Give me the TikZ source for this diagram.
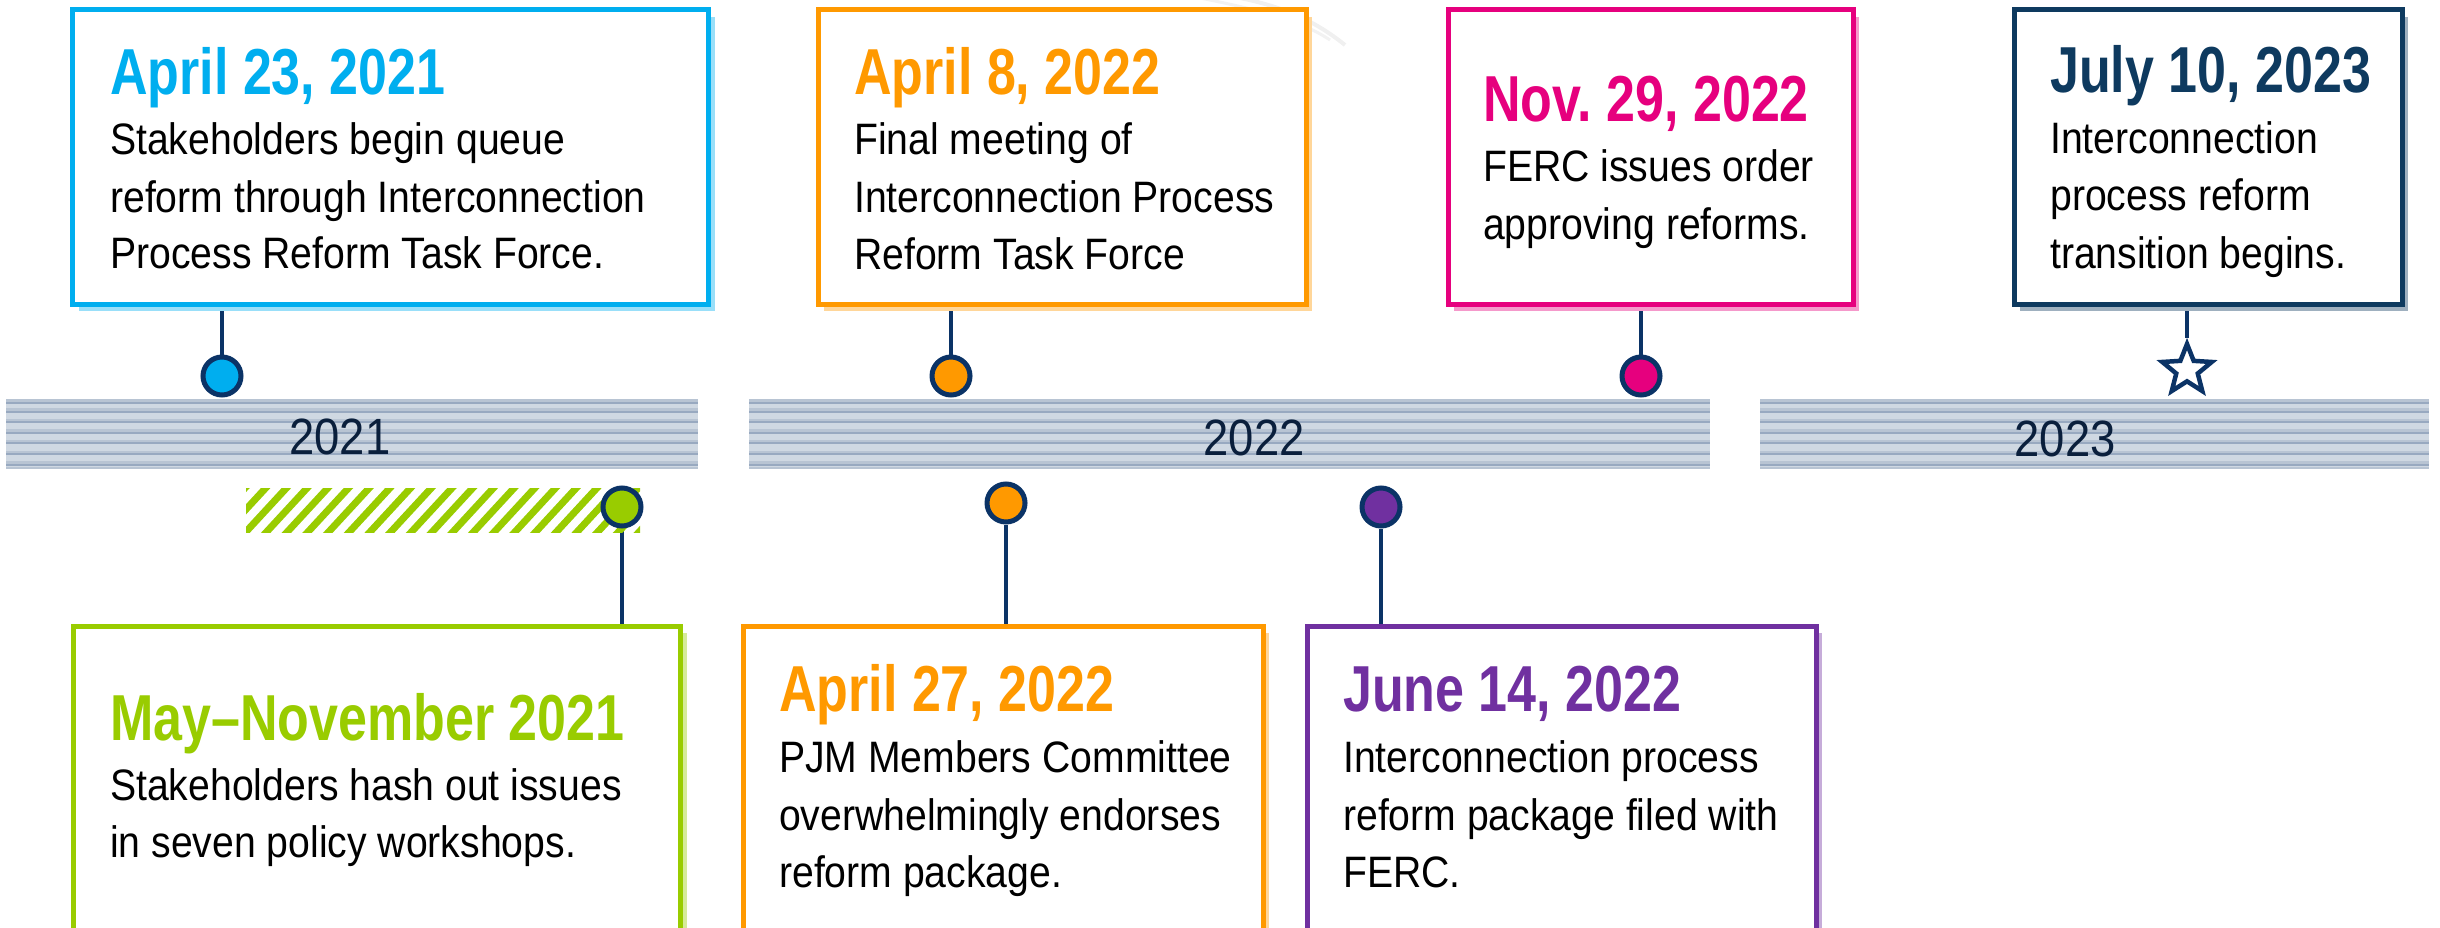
\documentclass[tikz,border=0pt]{standalone}
\usepackage{fontspec}
\setmainfont{Liberation Sans}[FakeStretch=0.89]
\newfontfamily\titlefont{Liberation Sans}[FakeStretch=0.80]
\usetikzlibrary{shadows,shapes.geometric}
\frenchspacing
\definecolor{cyanc}{HTML}{00AEEF}
\definecolor{orangec}{HTML}{FF9900}
\definecolor{pinkc}{HTML}{E6007E}
\definecolor{navyc}{HTML}{0E3A5F}
\definecolor{greenc}{HTML}{99CC00}
\definecolor{purplec}{HTML}{7030A0}
\definecolor{linec}{HTML}{0B3366}
\definecolor{barc}{HTML}{CFD8E2}
\definecolor{stripec}{HTML}{98A9C0}
\definecolor{stripemid}{HTML}{B8C4D3}
\definecolor{yearc}{HTML}{0A1F3C}
\pgfdeclarelayer{bg}
\pgfsetlayers{bg,main}
\begin{document}
\begin{tikzpicture}[x=1pt,y=-1pt,
  box/.style={draw=#1, line width=5pt, fill=white, inner sep=0pt, anchor=north west,
    drop shadow={fill=#1!40, opacity=1, shadow xshift=6pt, shadow yshift=-7pt}},
  dot/.style={circle, draw=linec, line width=5pt, fill=#1, minimum size=38pt, inner sep=0pt},
  conn/.style={draw=linec, line width=3.3pt},
  ttl/.style={anchor=base west, inner sep=0pt, text=#1, font=\titlefont\bfseries\fontsize{65}{70}\selectfont},
  body/.style={anchor=base west, inner sep=0pt, text=black, font=\fontsize{44}{50}\selectfont},
  yr/.style={anchor=base, inner sep=0pt, text=yearc, font=\fontsize{51}{55}\selectfont}]
\useasboundingbox (0,0) rectangle (2440,928);

% faint background swirl
\draw[black!6, line width=4pt] (1240,-2) .. controls (1290,8) and (1320,25) .. (1345,45);
\draw[black!5, line width=3pt] (1200,-2) .. controls (1260,10) and (1300,20) .. (1330,40);

% timeline bars
\foreach \xa/\xb in {6/698, 749/1710, 1760/2429} {
  \fill[barc] (\xa,402.5) rectangle (\xb,469);
  \foreach \yy in {402.7, 411.7, 422.3, 432.7, 443.3, 454, 464.7} {
    \fill[stripemid] (\xa,\yy-3.5) rectangle (\xb,\yy-1);
    \fill[stripec] (\xa,\yy-1) rectangle (\xb,\yy+1);
  }
  \fill[stripemid] (\xa,467) rectangle (\xb,469);
}
\node[yr] (y2021) at (340,454) {2021};
\node[yr] (y2022) at (1254,455) {2022};
\node[yr] (y2023) at (2065,456) {2023};

% hatched span May-Nov 2021
\begin{scope}
  \clip (246,488) rectangle (640,532);
  \foreach \x in {180,200.7,...,700} \draw[greenc, line width=7pt] (\x,536) -- (\x+48,484);
\end{scope}

% top boxes
\node[box=cyanc, minimum width=636pt, minimum height=294pt] (A) at (70,7.5) {};
\node[box=orangec, minimum width=488pt, minimum height=294pt] (B) at (815.5,7.5) {};
\node[box=pinkc, minimum width=405pt, minimum height=294pt] (C) at (1445.5,7.5) {};
\node[box=navyc, minimum width=388pt, minimum height=294pt] (D) at (2011.5,7.5) {};
% bottom boxes
\node[box=greenc, minimum width=607pt, minimum height=304pt] (E) at (71,623.5) {};
\node[box=orangec, minimum width=520pt, minimum height=304pt] (F) at (740.5,623.5) {};
\node[box=purplec, minimum width=509pt, minimum height=304pt] (G) at (1304.5,623.5) {};

% markers
\node[dot=cyanc] (mA) at (222,376) {};
\node[dot=orangec] (mB) at (951,376) {};
\node[dot=pinkc] (mC) at (1641,376) {};
\node[star, star points=5, star point ratio=2.3, minimum size=52pt, inner sep=0pt,
      draw=linec, line width=4.5pt, fill=white] (mD) at (2187,370) {};
\node[dot=greenc] (mE) at (622,507) {};
\node[dot=orangec] (mF) at (1006,503) {};
\node[dot=purplec] (mG) at (1381,507) {};

% connectors
\begin{pgfonlayer}{bg}
\draw[conn] (mA) -- (mA |- A.south);
\draw[conn] (mB) -- (mB |- B.south);
\draw[conn] (mC) -- (mC |- C.south);
\draw[conn] (mD.north) -- (mD |- D.south);
\draw[conn] (mE) -- (mE |- E.north);
\draw[conn] (mF) -- (mF |- F.north);
\draw[conn] (mG) -- (mG |- G.north);
\end{pgfonlayer}

% texts A
\node[ttl=cyanc] (At) at (110,95) {April 23, 2021};
\node[body] (A1) at (110,155) {Stakeholders begin queue};
\node[body] (A2) at (110,212) {reform through Interconnection};
\node[body] (A3) at (110,268) {Process Reform Task Force.};
% texts B
\node[ttl=orangec] (Bt) at (854,95) {April 8, 2022};
\node[body] (B1) at (854,155) {Final meeting of};
\node[body] (B2) at (854,212) {Interconnection Process};
\node[body] (B3) at (854,269) {Reform Task Force};
% texts C
\node[ttl=pinkc] (Ct) at (1483,122) {Nov.\ 29, 2022};
\node[body] (C1) at (1483,182) {FERC issues order};
\node[body] (C2) at (1483,239) {approving reforms.};
% texts D
\node[ttl=navyc] (Dt) at (2050,93) {July 10, 2023};
\node[body] (D1) at (2050,154) {Interconnection};
\node[body] (D2) at (2050,211) {process reform};
\node[body] (D3) at (2050,268) {transition begins.};
% texts E
\node[ttl=greenc] (Et) at (110,740) {May–November 2021};
\node[body] (E1) at (110,800) {Stakeholders hash out issues};
\node[body] (E2) at (110,857) {in seven policy workshops.};
% texts F
\node[ttl=orangec] (Ft) at (779,711) {April 27, 2022};
\node[body] (F1) at (779,772) {PJM Members Committee};
\node[body] (F2) at (779,830) {overwhelmingly endorses};
\node[body] (F3) at (779,887) {reform package.};
% texts G
\node[ttl=purplec] (Gt) at (1343,711) {June 14, 2022};
\node[body] (G1) at (1343,772) {Interconnection process};
\node[body] (G2) at (1343,830) {reform package filed with};
\node[body] (G3) at (1343,887) {FERC.};
\end{tikzpicture}
\end{document}
